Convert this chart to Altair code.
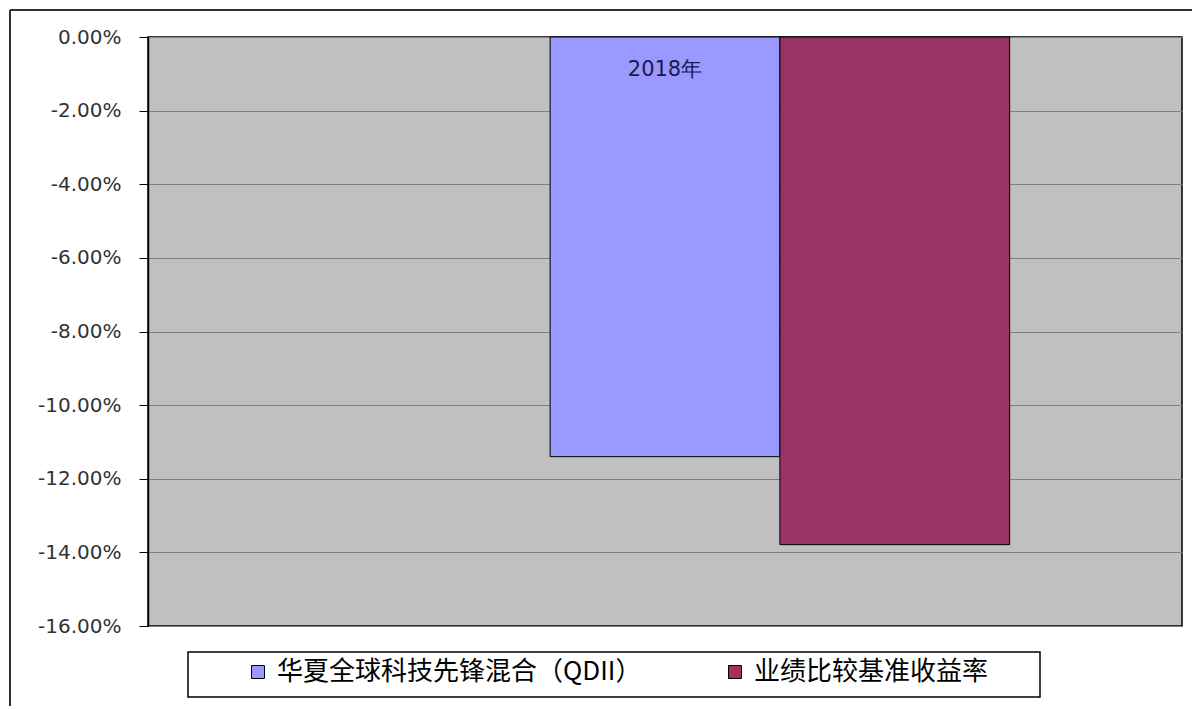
import altair as alt
import pandas as pd

categories = ["2018年"]
series = ["华夏全球科技先锋混合（QDII）", "业绩比较基准收益率"]
values = [-0.1140, -0.1379]
colors = ["#9999FF", "#993366"]
y_ticks = [0, -0.02, -0.04, -0.06, -0.08, -0.10, -0.12, -0.14, -0.16]

bars_df = pd.DataFrame({"series": series, "value": values})
label_df = pd.DataFrame({"series": [series[0]], "label": categories})
one = pd.DataFrame({"d": [0]})

# one empty slot on the left reproduces the off-centre placement of the bar group
xscale = alt.Scale(domain=[" "] + series, paddingInner=0, paddingOuter=0.75)

bars = alt.Chart(bars_df).mark_bar(stroke="#000000", strokeWidth=1).encode(
    x=alt.X("series:N", scale=xscale, axis=None),
    y=alt.Y(
        "value:Q",
        scale=alt.Scale(domain=[-0.16, 0], nice=False, zero=False),
        axis=alt.Axis(
            values=y_ticks,
            labelExpr="replace(format(datum.value, '.2%'), '\u2212', '-')",
            title=None,
            grid=True,
            gridColor="#7f7f7f",
            gridWidth=1,
            domain=True,
            domainColor="#000000",
            domainWidth=1.5,
            ticks=True,
            tickSize=9,
            tickColor="#000000",
            labelPadding=18,
            labelFont="DejaVu Sans",
            labelFontSize=20,
            labelColor="#333333",
        ),
    ),
    color=alt.Color(
        "series:N",
        scale=alt.Scale(domain=series, range=colors),
        legend=alt.Legend(
            title=None,
            orient="none",
            legendX=97,
            legendY=622,
            direction="horizontal",
            symbolType="square",
            symbolSize=169,
            symbolStrokeColor="#000000",
            symbolStrokeWidth=1,
            labelFont="Noto Sans CJK SC",
            labelFontSize=26,
            labelColor="#000000",
            labelLimit=600,
            labelOffset=6,
            columnPadding=80,
            padding=0,
        ),
    ),
)

cat_text = alt.Chart(label_df).mark_text(
    font="DejaVu Sans", fontSize=21, color="#1a1a4d", baseline="middle", dy=33
).encode(
    x=alt.X("series:N", scale=xscale, axis=None),
    y=alt.datum(0),
    text="label:N",
)

legend_box = alt.Chart(one).mark_rect(
    fill="#ffffff", stroke="#000000", strokeWidth=1.5
).encode(
    x=alt.value(40), x2=alt.value(892), y=alt.value(615), y2=alt.value(660)
)

frame_top = alt.Chart(one).mark_rule(color="#333333", strokeWidth=2).encode(
    x=alt.value(-138), x2=alt.value(1050), y=alt.value(-27)
)
frame_left = alt.Chart(one).mark_rule(color="#333333", strokeWidth=2).encode(
    x=alt.value(-138), y=alt.value(-27), y2=alt.value(700)
)

chart = (
    alt.layer(frame_top, frame_left, legend_box, bars, cat_text)
    .properties(
        width=1034,
        height=589,
        autosize=alt.AutoSizeParams(type="none"),
        padding={"left": 140, "top": 29, "right": 10, "bottom": 80},
        background="#ffffff",
    )
    .configure_view(fill="#c0c0c0", stroke="#000000", strokeWidth=1.5)
)

chart.save("out.html", embed_options={"renderer": "svg", "actions": False})
